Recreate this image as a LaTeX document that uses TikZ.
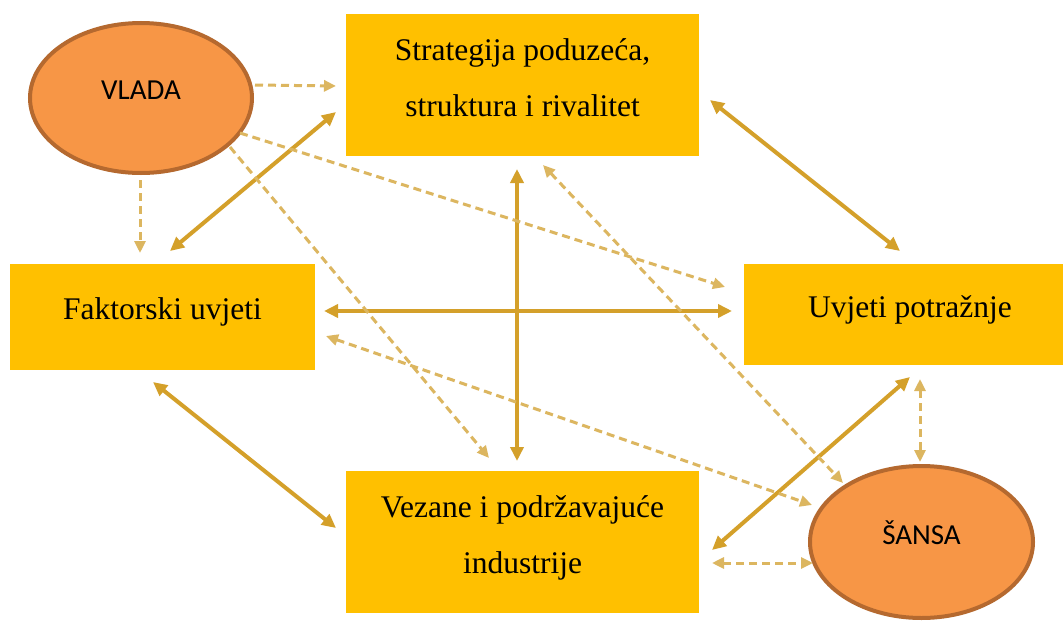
\documentclass[tikz,border=0pt]{standalone}
\usepackage{fontspec}
\setmainfont{Liberation Serif}
\newfontfamily\califont{Carlito}
\usetikzlibrary{arrows.meta,shapes.geometric}
\definecolor{boxfill}{HTML}{FFC000}
\definecolor{ellfill}{HTML}{F79646}
\definecolor{elldraw}{HTML}{B5692F}
\definecolor{solidc}{RGB}{212,160,42}
\definecolor{dashc}{RGB}{220,182,96}
\tikzset{
  box/.style={rectangle, fill=boxfill, draw=white, line width=4pt, inner sep=0pt,
    align=center, font=\fontsize{31.5}{56}\selectfont},
  ell/.style={ellipse, fill=ellfill, draw=elldraw, line width=4pt, inner sep=0pt,
    font=\califont\fontsize{29}{32}\selectfont},
  solidarrow/.style={draw=solidc, line width=4pt,
    {Triangle[length=14pt,width=13pt]}-{Triangle[length=14pt,width=13pt]}},
  dasharrow/.style={draw=dashc, line width=3pt, dash pattern=on 8pt off 5pt},
  dtip/.style={-{Triangle[length=12pt,width=11pt]}},
  dtips/.style={{Triangle[length=12pt,width=11pt]}-{Triangle[length=12pt,width=11pt]}}
}
\begin{document}
\begin{tikzpicture}[x=1pt,y=-1pt]
\useasboundingbox (0,0) rectangle (1063,621);
\clip (0,0) rectangle (1063,621);
\fill[white] (0,0) rectangle (1063,621);

\node[box, minimum width=357pt, minimum height=146pt] (top) at (522.5,85)
  {Strategija poduzeća,\\struktura i rivalitet\rule[-14pt]{0pt}{0pt}};
\node[box, minimum width=309pt, minimum height=110pt, text height=22pt, text depth=18pt] (left) at (162.5,317)
  {Faktorski uvjeti};
\node[box, minimum width=336pt, minimum height=105pt, text height=22pt, text depth=17pt] (right) at (910,314.5)
  {Uvjeti potražnje};
\node[box, minimum width=357pt, minimum height=146pt] (bot) at (522.5,542)
  {Vezane i podržavajuće\\industrije\rule[-14pt]{0pt}{0pt}};
\node[ell, minimum width=222pt, minimum height=150pt, text height=18pt, text depth=16pt] (vlada) at (141,98)
  {VLADA};
\node[ell, minimum width=223pt, minimum height=152pt, text height=18pt, text depth=14pt] (sansa) at (921.5,542)
  {ŠANSA};

% solid double-headed connectors
\draw[solidarrow] ([shift={(-6,27)}]top.west) -- ([shift={(7.5,-9)}]left.north);
\draw[solidarrow] ([shift={(7,15)}]top.east) -- ([shift={(-10,-9)}]right.north);
\draw[solidarrow] ([shift={(5,-6)}]left.east) -- ([shift={(-8,-3.5)}]right.west);
\draw[solidarrow] ([shift={(-5.5,9)}]top.south) -- ([shift={(-5.5,-6)}]bot.north);
\draw[solidarrow] ([shift={(-9.5,8)}]left.south) -- ([shift={(-6,-14)}]bot.west);
\draw[solidarrow] ([shift={(0,8)}]right.south) -- ([shift={(9,8)}]bot.east);

% dashed connectors
\draw[dasharrow,dtip] ([shift={(114,-13)}]vlada.center) -- ([shift={(-6,1)}]top.west);
\draw[dasharrow,dtip] ([shift={(-1,82)}]vlada.center) -- ([shift={(-22.5,-7)}]left.north);
\draw[dasharrow,dtip] ([shift={(99,35)}]vlada.center) -- ([shift={(-15,-27.5)}]right.west);
\draw[dasharrow,dtip] ([shift={(89,49)}]vlada.center) -- ([shift={(-33.5,-9)}]bot.north);
\draw[dasharrow,dtips] ([shift={(20.5,5)}]top.south) -- ([shift={(-78.5,-59)}]sansa.center);
\draw[dasharrow,dtips] ([shift={(7,19)}]left.east) -- ([shift={(-109.5,-37)}]sansa.center);
\draw[dasharrow,dtips] ([shift={(10,10)}]right.south) -- ([shift={(-1.5,-80)}]sansa.center);
\draw[dasharrow,dtips] ([shift={(9,21)}]bot.east) -- ([shift={(-108.5,21)}]sansa.center);
\end{tikzpicture}
\end{document}
